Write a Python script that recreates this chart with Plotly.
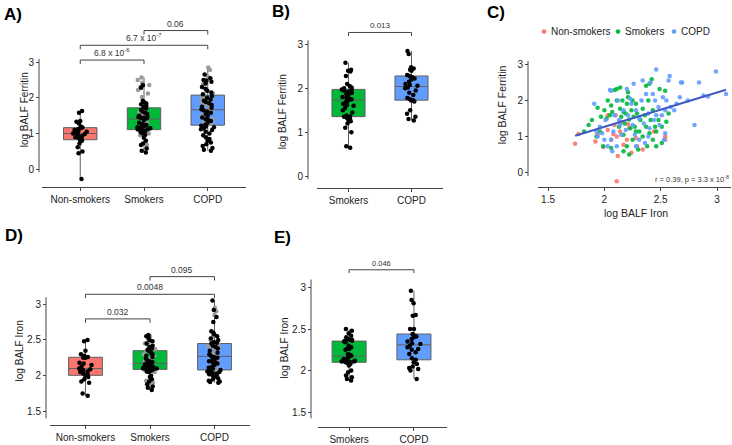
import plotly.graph_objects as go

W, H = 732, 445

# ---------------- data ----------------
groups3 = ["Non-smokers", "Smokers", "COPD"]
groups2 = ["Smokers", "COPD"]

# Panel A: log BALF Ferritin
A_nonsmokers = [-0.27, 0.45, 0.5, 0.62, 0.72, 0.8, 0.82, 0.85, 0.88, 0.9, 0.93, 0.97, 0.99, 1.0,
                1.02, 1.05, 1.07, 1.1, 1.12, 1.15, 1.17, 1.2, 1.28, 1.33, 1.35, 1.58, 1.63]
A_smokers_grey = [2.57, 2.5, 2.42, 2.36, 2.3, 2.22, 2.12, 2.02, 1.68, 1.6, 1.5, 1.45, 1.35, 1.25,
                  1.1, 0.95, 0.68, 1.0, 1.3]
A_smokers_black = [2.35, 2.28, 1.92, 1.88, 1.85, 1.82, 1.78, 1.74, 1.7, 1.66, 1.62, 1.58, 1.55, 1.5,
                   1.47, 1.44, 1.43, 1.38, 1.46, 1.43, 1.3, 1.27, 1.24, 1.2, 1.17, 1.14, 1.12, 1.1,
                   1.07, 1.04, 1.0, 0.96, 1.18, 0.88, 1.25, 0.8, 1.2, 0.72, 0.68, 1.12, 0.58, 0.52,
                   0.47, 1.15, 1.45]
A_copd_grey = [2.85, 2.78, 2.6, 2.5, 2.38, 2.2, 2.12, 2.05, 1.98, 1.95, 1.88, 1.8, 1.72, 1.6, 1.5,
               1.4, 1.28, 2.0, 1.9, 1.65, 1.55, 1.3]
A_copd_black = [2.65, 2.55, 2.5, 2.48, 2.45, 2.4, 2.3, 2.25, 2.2, 2.15, 2.1, 2.05, 2.0, 1.95, 1.92,
                1.88, 1.85, 1.8, 1.75, 1.72, 1.68, 1.65, 1.62, 1.58, 1.55, 1.5, 1.45, 1.4, 1.37,
                1.35, 1.3, 1.25, 1.22, 1.2, 1.18, 1.15, 1.12, 1.1, 1.05, 1.0, 0.95, 0.9, 0.85, 0.8,
                0.75, 0.7, 0.65, 0.6, 0.55, 0.52]
A_comparisons = [(0, 1), (0, 2), (1, 2)]
A_pvalues = ["6.8 x 10<sup>-6</sup>", "6.7 x 10<sup>-7</sup>", "0.06"]

# Panel B: log BALF Ferritin (subset)
B_smokers = [2.58, 2.42, 2.4, 2.38, 2.28, 2.1, 2.0, 1.98, 1.97, 1.95, 1.9, 1.87, 1.85, 2.05, 1.8,
             1.78, 1.76, 1.75, 1.72, 1.7, 1.65, 1.62, 1.6, 1.55, 1.5, 1.45, 1.38, 1.35, 1.33, 1.3,
             1.28, 1.25, 1.2, 1.1, 1.0, 0.68, 0.65, 1.36, 1.92, 2.02]
B_copd = [2.85, 2.78, 2.48, 2.45, 2.42, 2.4, 2.3, 2.28, 2.25, 2.22, 2.2, 2.15, 2.1, 2.08, 2.06,
          2.02, 2.0, 1.95, 1.9, 1.85, 1.78, 1.75, 1.73, 1.72, 1.7, 1.5, 1.42, 1.35, 1.3, 1.27]
B_pvalue = "0.013"

# Panel C: log BALF Iron (x) vs log BALF Ferritin (y)
C_ns_iron = [1.74, 1.77, 1.92, 1.99, 2.03, 2.03, 2.06, 2.08, 2.09, 2.11, 2.11, 2.12, 2.14, 2.15,
             2.17, 2.21, 2.22, 2.24, 2.28, 2.29, 2.34, 2.44, 2.54, 2.54, 2.10, 2.20, 1.94]
C_ns_ferritin = [0.79, 1.06, 0.85, 0.70, 1.58, 1.17, 0.90, 1.06, 1.31, 0.99, -0.25, 0.45, 1.13, 1.40,
                 0.76, 1.33, 1.22, 0.54, 0.95, 0.72, 0.63, 1.13, 0.99, 0.90, 1.58, 0.90, 1.04]
C_sm_iron = [1.82, 1.86, 1.89, 1.93, 1.94, 1.96, 1.99, 2.0, 2.02, 2.03, 2.05, 2.06, 2.09, 2.11, 2.11,
             2.13, 2.14, 2.14, 2.15, 2.16, 2.17, 2.17, 2.18, 2.19, 2.2, 2.2, 2.21, 2.22, 2.22, 2.23,
             2.24, 2.25, 2.25, 2.26, 2.27, 2.28, 2.29, 2.3, 2.31, 2.32, 2.34, 2.34, 2.36, 2.37, 2.37,
             2.38, 2.39, 2.4, 2.4, 2.41, 2.42, 2.43, 2.43, 2.45, 2.46, 2.46, 2.48, 2.49, 2.51, 2.51,
             2.54, 2.55, 2.57, 2.17, 2.06, 2.28, 1.97, 2.21, 2.07]
C_sm_ferritin = [1.13, 1.31, 1.45, 0.99, 1.79, 1.13, 0.72, 1.72, 1.49, 1.99, 1.58, 1.85, 2.28, 1.99,
                 2.31, 1.26, 1.76, 2.35, 1.54, 1.99, 1.67, 1.04, 1.35, 1.63, 1.9, 0.72, 2.08, 1.46,
                 0.49, 1.22, 1.72, 1.99, 0.9, 1.54, 1.26, 1.9, 1.63, 0.63, 1.13, 1.45, 1.76, 0.99,
                 1.58, 2.4, 1.26, 0.72, 1.99, 1.08, 2.45, 1.45, 2.58, 0.9, 1.72, 1.26, 1.13, 0.72,
                 1.45, 2.31, 1.26, 0.81, 2.26, 1.4, 1.63, 0.58, 0.67, 1.13, 1.54, 2.22, 1.67]
C_copd_iron = [1.91, 1.93, 1.94, 1.96, 1.98, 2.01, 2.03, 2.05, 2.06, 2.07, 2.08, 2.09, 2.11, 2.12,
               2.13, 2.15, 2.17, 2.19, 2.21, 2.23, 2.25, 2.26, 2.27, 2.28, 2.31, 2.31, 2.33, 2.34,
               2.35, 2.36, 2.37, 2.39, 2.4, 2.41, 2.43, 2.44, 2.45, 2.46, 2.48, 2.49, 2.51, 2.52,
               2.53, 2.54, 2.55, 2.57, 2.58, 2.59, 2.62, 2.64, 2.67, 2.68, 2.69, 2.74, 2.8, 2.84,
               2.88, 2.92, 2.99, 3.08, 2.2, 2.0, 2.06, 2.39, 2.28, 2.14, 2.24, 2.46, 2.54]
C_copd_ferritin = [1.9, 1.13, 0.99, 1.26, 1.08, 1.45, 0.72, 2.28, 0.9, 0.58, 1.13, 1.58, 0.72, 1.99,
                   1.45, 1.04, 1.72, 1.17, 1.58, 2.04, 1.31, 2.45, 1.04, 1.72, 1.49, 0.9, 1.99, 2.54,
                   1.35, 0.81, 2.17, 1.63, 1.22, 2.49, 2.17, 1.45, 1.99, 2.85, 1.81, 1.31, 1.58, 2.08,
                   0.9, 1.08, 1.99, 2.54, 2.67, 1.81, 1.72, 1.9, 2.08, 2.49, 2.49, 1.99, 1.31, 2.49,
                   2.13, 2.1, 2.79, 2.17, 2.31, 0.9, 2.26, 0.99, 0.72, 1.31, 1.9, 1.58, 1.72]
C_fit_slope = 0.95
C_fit_intercept = -0.64
C_stat_text = "r = 0.39, p = 3.3 x 10<sup>-8</sup>"

# Panel D: log BALF Iron
D_nonsmokers = [2.5, 2.48, 2.35, 2.3, 2.28, 2.26, 2.25, 2.26, 2.25, 2.18, 2.15, 2.13, 2.09, 2.1,
                2.08, 2.06, 2.05, 2.03, 2.0, 1.98, 1.95, 1.92, 1.9, 1.75, 1.72, 2.17, 2.02]
D_smokers_grey = [2.55, 2.5, 2.45, 2.4, 2.37, 2.35, 2.3, 2.25, 2.22, 2.2, 2.16, 2.12, 2.1, 2.05,
                  2.1, 2.08, 1.93, 1.9, 2.28, 2.18]
D_smokers_black = [2.57, 2.55, 2.53, 2.5, 2.48, 2.45, 2.42, 2.4, 2.38, 2.36, 2.35, 2.32, 2.3, 2.28,
                   2.26, 2.24, 2.22, 2.2, 2.19, 2.18, 2.17, 2.16, 2.15, 2.14, 2.13, 2.12, 2.12, 2.11,
                   2.1, 2.1, 2.09, 2.08, 2.07, 2.06, 2.05, 2.11, 2.1, 2.0, 1.98, 1.95, 1.92, 1.88,
                   1.85, 1.83, 1.8]
D_copd_grey = [2.95, 2.9, 2.85, 2.44, 2.43, 2.55, 2.5, 2.45, 2.42, 2.4, 2.38, 2.35, 2.3, 2.28,
               2.25, 2.2, 2.15, 2.1, 2.05, 2.0, 2.12, 2.32]
D_copd_black = [3.05, 2.92, 2.82, 2.75, 2.46, 2.62, 2.6, 2.58, 2.55, 2.52, 2.5, 2.47, 2.45, 2.42,
                2.4, 2.38, 2.35, 2.32, 2.3, 2.28, 2.26, 2.25, 2.23, 2.21, 2.2, 2.19, 2.18, 2.17,
                2.15, 2.13, 2.11, 2.1, 2.08, 2.07, 2.06, 2.05, 2.04, 2.03, 2.02, 2.01, 2.0, 1.98,
                1.96, 1.95, 1.93, 1.92, 1.91, 1.9]
D_comparisons = [(0, 1), (0, 2), (1, 2)]
D_pvalues = ["0.032", "0.0048", "0.095"]

# Panel E: log BALF Iron (subset)
E_smokers = [2.5, 2.48, 2.45, 2.42, 2.4, 2.38, 2.37, 2.36, 2.35, 2.34, 2.3, 2.28, 2.26, 2.25, 2.37,
             2.36, 2.2, 2.19, 2.18, 2.17, 2.15, 2.14, 2.13, 2.12, 2.11, 2.1, 2.1, 2.09, 2.08, 2.06,
             2.11, 2.1, 2.0, 1.98, 2.12, 1.94, 1.92, 1.9, 1.88, 2.27]
E_copd = [2.96, 2.85, 2.81, 2.67, 2.66, 2.5, 2.5, 2.44, 2.42, 2.41, 2.4, 2.38, 2.33, 2.32, 2.3,
          2.28, 2.26, 2.25, 2.22, 2.15, 2.13, 2.1, 2.08, 2.05, 2.03, 2.02, 2.0, 1.9, 2.35, 2.2]
E_pvalue = "0.046"

# ---------------- styling ----------------
FONT = "Liberation Sans, Arial, sans-serif"
COLORS = {"Non-smokers": "#F8766D", "Smokers": "#00B83A", "COPD": "#619CFF"}
BOX_LINE = "#606060"
AXIS_COLOR = "#444444"
TXT = "#222222"


def px(p):
    return p / W


def py(p):
    return 1 - p / H


fig = go.Figure()


def add_box(xa, ya, cat, values):
    fig.add_trace(go.Box(x=[cat] * len(values), y=values, xaxis=xa, yaxis=ya,
                         boxpoints=False, fillcolor=COLORS[cat],
                         line=dict(color=BOX_LINE, width=1), whiskerwidth=0,
                         hoverinfo="skip", showlegend=False))


def add_points(xa, ya, cat, values, color):
    fig.add_trace(go.Box(x=[cat] * len(values), y=values, xaxis=xa, yaxis=ya,
                         boxpoints="all", jitter=0.45, pointpos=0,
                         fillcolor="rgba(0,0,0,0)",
                         line=dict(color="rgba(0,0,0,0)", width=0), whiskerwidth=0,
                         marker=dict(color=color, size=4.5), showlegend=False))


# Panel A
add_box("x", "y", "Non-smokers", A_nonsmokers)
add_box("x", "y", "Smokers", A_smokers_black + A_smokers_grey)
add_box("x", "y", "COPD", A_copd_black + A_copd_grey)
add_points("x", "y", "Smokers", A_smokers_grey, "#9a9a9a")
add_points("x", "y", "COPD", A_copd_grey, "#9a9a9a")
add_points("x", "y", "Non-smokers", A_nonsmokers, "black")
add_points("x", "y", "Smokers", A_smokers_black, "black")
add_points("x", "y", "COPD", A_copd_black, "black")

# Panel B
add_box("x2", "y2", "Smokers", B_smokers)
add_box("x2", "y2", "COPD", B_copd)
add_points("x2", "y2", "Smokers", B_smokers, "black")
add_points("x2", "y2", "COPD", B_copd, "black")

# Panel C
for name, xs, ys in [("Non-smokers", C_ns_iron, C_ns_ferritin),
                     ("Smokers", C_sm_iron, C_sm_ferritin),
                     ("COPD", C_copd_iron, C_copd_ferritin)]:
    fig.add_trace(go.Scatter(x=xs, y=ys, mode="markers", xaxis="x3", yaxis="y3", name=name,
                             marker=dict(color=COLORS[name], size=4.5, opacity=0.9),
                             showlegend=False))
all_iron = C_ns_iron + C_sm_iron + C_copd_iron
fit_x = [min(all_iron), max(all_iron)]
fit_y = [C_fit_intercept + C_fit_slope * v for v in fit_x]
fig.add_trace(go.Scatter(x=fit_x, y=fit_y, mode="lines", xaxis="x3", yaxis="y3",
                         line=dict(color="#4159C4", width=2), showlegend=False))

# Panel D
add_box("x4", "y4", "Non-smokers", D_nonsmokers)
add_box("x4", "y4", "Smokers", D_smokers_black + D_smokers_grey)
add_box("x4", "y4", "COPD", D_copd_black + D_copd_grey)
add_points("x4", "y4", "Smokers", D_smokers_grey, "#9a9a9a")
add_points("x4", "y4", "COPD", D_copd_grey, "#9a9a9a")
add_points("x4", "y4", "Non-smokers", D_nonsmokers, "black")
add_points("x4", "y4", "Smokers", D_smokers_black, "black")
add_points("x4", "y4", "COPD", D_copd_black, "black")

# Panel E
add_box("x5", "y5", "Smokers", E_smokers)
add_box("x5", "y5", "COPD", E_copd)
add_points("x5", "y5", "Smokers", E_smokers, "black")
add_points("x5", "y5", "COPD", E_copd, "black")

# ---------------- axes ----------------
tickfont = dict(family=FONT, size=10, color=TXT)


def xaxis_cfg(dom, rng, anchor, cats=None):
    d = dict(domain=[px(dom[0]), px(dom[1])], range=rng, anchor=anchor,
             showline=True, linecolor=AXIS_COLOR, linewidth=1, showgrid=False, zeroline=False,
             ticks="outside", ticklen=3, tickcolor=AXIS_COLOR, tickfont=tickfont)
    if cats is not None:
        d.update(type="category", categoryorder="array", categoryarray=cats)
    return d


def yaxis_cfg(dom, rng, pos, tickvals):
    return dict(domain=[py(dom[0]), py(dom[1])], range=rng, anchor="free", position=px(pos),
                showline=False, showgrid=False, zeroline=False, tickvals=tickvals,
                ticks="outside", ticklen=3, tickcolor=AXIS_COLOR, tickfont=tickfont)


layout_axes = dict(
    xaxis=xaxis_cfg((42, 246), [-0.6, 2.6], "y", groups3),
    yaxis=yaxis_cfg((188, 20), [-0.495, 4.128], 39, [0, 1, 2, 3]),
    xaxis2=xaxis_cfg((317, 443), [-0.5, 1.5], "y2", groups2),
    yaxis2=yaxis_cfg((189, 20), [-0.269, 3.515], 308, [0, 1, 2, 3]),
    xaxis3=xaxis_cfg((538, 731), [1.411, 3.124], "y3"),
    yaxis3=yaxis_cfg((188, 60), [-0.409, 3.082], 528, [0, 1, 2, 3]),
    xaxis4=xaxis_cfg((50, 250), [-0.55, 2.55], "y4", groups3),
    yaxis4=yaxis_cfg((430, 265), [1.307, 3.578], 46, [1.5, 2, 2.5, 3]),
    xaxis5=xaxis_cfg((318, 447), [-0.48, 1.51], "y5", groups2),
    yaxis5=yaxis_cfg((432, 255), [1.319, 3.415], 311, [1.5, 2, 2.5, 3]),
)
layout_axes["xaxis3"]["tickvals"] = [1.5, 2, 2.5, 3]

shapes = []
annotations = []

# y axis lines (shorter than the panel)
for x_line, y_top, y_bot in [(39, 58, 173), (308, 39, 180), (528, 60, 177),
                             (46, 300, 423), (311, 282, 423)]:
    shapes.append(dict(type="line", xref="paper", yref="paper", x0=px(x_line), x1=px(x_line),
                       y0=py(y_top), y1=py(y_bot), line=dict(color=AXIS_COLOR, width=1)))


def bracket(xa, ya, i, j, y_line, leg, label, size):
    for (x0, x1, y0, y1) in [(i, i, y_line - leg, y_line), (i, j, y_line, y_line),
                             (j, j, y_line - leg, y_line)]:
        shapes.append(dict(type="line", xref=xa, yref=ya, x0=x0, x1=x1, y0=y0, y1=y1,
                           line=dict(color=AXIS_COLOR, width=1)))
    annotations.append(dict(xref=xa, yref=ya, x=(i + j) / 2, y=y_line, yanchor="bottom",
                            text=label, showarrow=False,
                            font=dict(family=FONT, size=size, color="#333333")))


for (i, j), lab, yl in zip(A_comparisons, A_pvalues, [3.055, 3.468, 3.88]):
    bracket("x", "y", i, j, yl, 0.11, lab, 8.5)
bracket("x2", "y2", 0, 1, 3.27, 0.08, B_pvalue, 8)
for (i, j), lab, yl in zip(D_comparisons, D_pvalues, [2.794, 3.138, 3.385]):
    bracket("x4", "y4", i, j, yl, 0.055, lab, 8.5)
bracket("x5", "y5", 0, 1, 3.213, 0.04, E_pvalue, 7.5)


# axis titles
def title(text, x, y, angle=-90, size=10):
    annotations.append(dict(xref="paper", yref="paper", x=px(x), y=py(y), text=text,
                            textangle=angle, showarrow=False, xanchor="center", yanchor="middle",
                            font=dict(family=FONT, size=size, color=TXT)))


title("log BALF Ferritin", 24, 110)
title("log BALF Ferritin", 282, 112)
title("log BALF Ferritin", 502, 105, size=10.5)
title("log BALF Iron", 636, 214, angle=0, size=10.5)
title("log BALF Iron", 19, 355)
title("log BALF Iron", 284, 352)

# panel labels
for lab, x, y in [("A)", 2, 13), ("B)", 270, 10), ("C)", 485, 11), ("D)", 3, 237), ("E)", 272, 239)]:
    annotations.append(dict(xref="paper", yref="paper", x=px(x), y=py(y), text="<b>" + lab + "</b>",
                            showarrow=False, xanchor="left", yanchor="middle",
                            font=dict(family=FONT, size=17, color="black")))

# stat text panel C
annotations.append(dict(xref="paper", yref="paper", x=px(731), y=py(180), text=C_stat_text,
                        showarrow=False, xanchor="right", yanchor="middle",
                        font=dict(family=FONT, size=7.5, color="#333333")))

# legend panel C
for name, dot_x in [("Non-smokers", 544), ("Smokers", 618), ("COPD", 674)]:
    shapes.append(dict(type="circle", xref="paper", yref="paper", xsizemode="pixel",
                       ysizemode="pixel", xanchor=px(dot_x), yanchor=py(30),
                       x0=-2.3, x1=2.3, y0=-2.3, y1=2.3, fillcolor=COLORS[name],
                       line=dict(width=0)))
    annotations.append(dict(xref="paper", yref="paper", x=px(dot_x + 5), y=py(30), text=name,
                            showarrow=False, xanchor="left", yanchor="middle",
                            font=dict(family=FONT, size=10, color=TXT)))

fig.update_layout(
    width=W, height=H, margin=dict(l=0, r=0, t=0, b=0),
    paper_bgcolor="white", plot_bgcolor="white",
    boxmode="overlay", boxgap=0.25, showlegend=False,
    font=dict(family=FONT, size=10, color=TXT),
    shapes=shapes, annotations=annotations,
    **layout_axes,
)

fig.write_html("out.html", config={"displayModeBar": False},
               post_script="document.body.style.margin='0';document.body.style.padding='0';")
